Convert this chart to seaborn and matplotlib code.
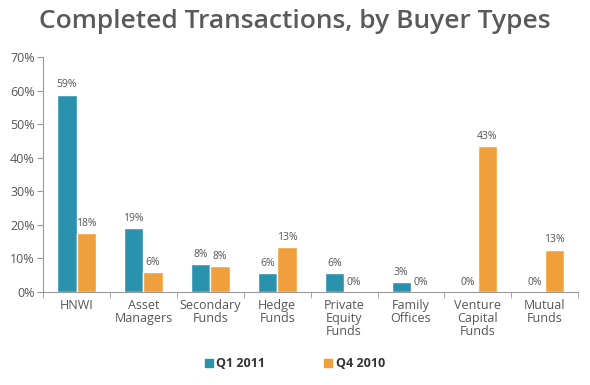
import pandas as pd
import matplotlib.pyplot as plt
import seaborn as sns

# chart data
buyer_types = ['HNWI', 'Asset\nManagers', 'Secondary\nFunds', 'Hedge\nFunds',
               'Private\nEquity\nFunds', 'Family\nOffices', 'Venture\nCapital\nFunds', 'Mutual\nFunds']
q1_2011 = [58.8, 19.1, 8.2, 5.7, 5.7, 2.9, 0.0, 0.0]
q4_2010 = [17.6, 5.9, 7.6, 13.4, 0.0, 0.0, 43.4, 12.6]
series = ['Q1 2011', 'Q4 2010']
colors = ['#2a92ad', '#efa03c']

df = pd.DataFrame({
    'buyer': buyer_types * 2,
    'share': q1_2011 + q4_2010,
    'period': [series[0]] * len(buyer_types) + [series[1]] * len(buyer_types),
})

sns.set_style('white')
plt.rcParams['font.family'] = ['Open Sans', 'DejaVu Sans']

fig = plt.figure(figsize=(5.9, 3.85), dpi=100)
ax = fig.add_axes([0.073, 0.242, 0.907, 0.61])

sns.barplot(data=df, x='buyer', y='share', hue='period', palette=colors,
            width=0.58, saturation=1, ax=ax, legend=False)

for cont in ax.containers:
    ax.bar_label(cont, labels=[f'{v:.0f}%' for v in cont.datavalues],
                 padding=3, fontsize=7.5, color='#555555')

ax.set_ylim(0, 70)
ax.set_xlim(-0.5, len(buyer_types) - 0.5)
ax.set_yticks(range(0, 71, 10))
ax.set_yticklabels([f'{t}%' for t in range(0, 71, 10)], fontsize=9, color='#555555')
ax.set_xticks(range(len(buyer_types)))
ax.set_xticklabels(buyer_types, fontsize=9, color='#555555', linespacing=1.0)
ax.set_xticks([i + 0.5 for i in range(-1, len(buyer_types))], minor=True)
ax.tick_params(axis='x', which='major', length=0, pad=5)
ax.tick_params(axis='x', which='minor', length=4, color='#999999', bottom=True)
ax.tick_params(axis='y', length=4, color='#999999', left=True, pad=2)
ax.set_xlabel('')
ax.set_ylabel('')
sns.despine(ax=ax)
for s in ['left', 'bottom']:
    ax.spines[s].set_color('#999999')

fig.text(0.5, 0.945, 'Completed Transactions, by Buyer Types', ha='center', va='center',
         fontsize=19, fontweight='semibold', color='#5a5a5a')

handles = [plt.Rectangle((0, 0), 1, 1, color=c) for c in colors]
fig.legend(handles, series, loc='center', bbox_to_anchor=(0.5, 0.055), ncol=2,
           frameon=False, handlelength=0.6, handleheight=0.6, handletextpad=0.3,
           columnspacing=4.7, prop={'weight': 'bold', 'size': 9})
for t in fig.legends[0].get_texts():
    t.set_color('#333333')

plt.savefig('out.png', dpi=100)
